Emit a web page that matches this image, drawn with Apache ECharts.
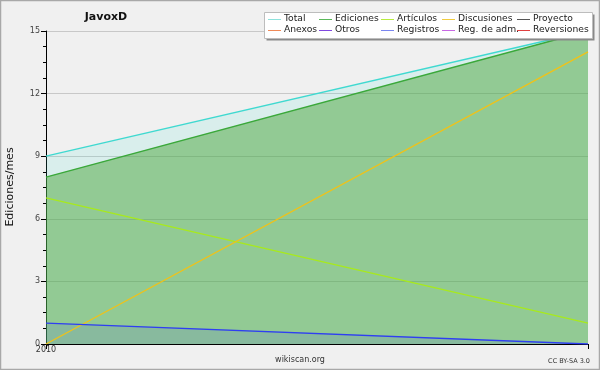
<!DOCTYPE html>
<html><head><meta charset="utf-8">
<script src="https://cdn.jsdelivr.net/npm/echarts@6/dist/echarts.min.js"></script>
<style>html,body{margin:0;padding:0;background:#f0f0f0}#c{width:600px;height:370px}</style>
</head><body><div id="c"></div>
<script>
const categories = ['2010', ''];
const total = [9, 15];
const ediciones = [8, 15];
const articulos = [7, 1];
const discusiones = [0, 14];
const registros = [1, 0];
const yTicks = [0, 3, 6, 9, 12, 15];
const legendCols = [['Total','Anexos'],['Ediciones','Otros'],['Artículos','Registros'],['Discusiones','Reg. de adm.'],['Proyecto','Reversiones']];
const colors = {
  'Total':'#3fd9d0','Ediciones':'#3aa83a','Artículos':'#a8ea1c','Discusiones':'#f0c218',
  'Proyecto':'#555555','Anexos':'#f07838','Otros':'#7a3ad8','Registros':'#2e3ef2',
  'Reg. de adm.':'#c050e0','Reversiones':'#e03030'
};
const legendColors = {
  'Total':'#8ee2dc','Ediciones':'#5ab85a','Artículos':'#b8ec40','Discusiones':'#f0cc40',
  'Proyecto':'#555555','Anexos':'#f08a58','Otros':'#8048e0','Registros':'#7a86f0',
  'Reg. de adm.':'#c868e4','Reversiones':'#e04040'
};
const FONT = 'DejaVu Sans';
function lineSeries(name, data, area){
  const s = {name, type:'line', data, symbol:'none', smooth:false, z:2,
    color: colors[name],
    lineStyle:{color:colors[name], width:1.3}, itemStyle:{color:colors[name]}};
  if(area) s.areaStyle = {color: area, opacity:1, origin:'start'};
  return s;
}
const series = [
  lineSeries('Total', total, 'rgba(64,224,208,0.13)'),
  lineSeries('Ediciones', ediciones, 'rgba(76,166,60,0.5)'),
  lineSeries('Artículos', articulos),
  lineSeries('Discusiones', discusiones),
  lineSeries('Registros', registros, 'rgba(50,50,255,0.1)'),
  lineSeries('Proyecto', []), lineSeries('Anexos', []), lineSeries('Otros', []),
  lineSeries('Reg. de adm.', []), lineSeries('Reversiones', [])
];
const colX = [268, 319, 381, 442, 517];
const rowY = [19, 30];
const legendGraphics = [];
legendCols.forEach((col, i) => col.forEach((n, r) => {
  legendGraphics.push({type:'rect', z:10, silent:true,
    shape:{x:colX[i], y:rowY[r], width:13, height:1},
    style:{fill:legendColors[n]}});
  legendGraphics.push({type:'text', z:10, silent:true, x:colX[i]+16, y:rowY[r],
    style:{text:n, fontFamily:FONT, fontSize:9.2, fill:'#222', align:'left', verticalAlign:'middle'}});
}));
const chart = echarts.init(document.getElementById('c'), null, {renderer:'canvas'});
chart.setOption({
  backgroundColor:'#f0f0f0',
  animation:false,
  grid:{left:46, right:12, top:31, bottom:26, containLabel:false},
  xAxis:{type:'category', data:categories, boundaryGap:false,
    axisLine:{lineStyle:{color:'#000', width:1}},
    axisTick:{show:true, length:5, lineStyle:{color:'#000'}},
    axisLabel:{fontFamily:FONT, fontSize:8, color:'#333', margin:2},
    splitLine:{show:false}},
  yAxis:{type:'value', min:0, max:15, interval:3,
    axisLine:{show:true, lineStyle:{color:'#000', width:1}},
    axisTick:{show:true, length:5, lineStyle:{color:'#000'}},
    minorTick:{show:true, splitNumber:4, length:3, lineStyle:{color:'#000'}},
    axisLabel:{fontFamily:FONT, fontSize:8, color:'#444', margin:6,
      formatter: v => yTicks.includes(v) ? String(v) : ''},
    splitLine:{show:true, lineStyle:{color:'#c8c8c8', width:1}}},
  graphic:[
    {type:'rect', z:0, silent:true, shape:{x:0.5,y:0.5,width:599,height:369},
      style:{fill:'none', stroke:'#a8a8a8', lineWidth:1.5}},
    {type:'text', z:10, x:106, y:17, style:{text:'JavoxD', fontFamily:FONT, fontWeight:'bold', fontSize:11, fill:'#111', align:'center', verticalAlign:'middle'}},
    {type:'text', z:10, x:10, y:187, rotation:Math.PI/2, style:{text:'Ediciones/mes', fontFamily:FONT, fontSize:11, fill:'#111', align:'center', verticalAlign:'middle'}},
    {type:'text', z:10, x:300, y:360, style:{text:'wikiscan.org', fontFamily:FONT, fontSize:8, fill:'#333', align:'center', verticalAlign:'middle'}},
    {type:'text', z:10, x:590, y:361, style:{text:'CC BY-SA 3.0', fontFamily:FONT, fontSize:6.5, fill:'#333', align:'right', verticalAlign:'middle'}},
    {type:'rect', z:8, silent:true, shape:{x:266.5, y:14.5, width:328, height:26}, style:{fill:'#8a8a8a'}},
    {type:'rect', z:9, silent:true, shape:{x:264.5, y:12.5, width:328, height:26}, style:{fill:'#ffffff', stroke:'#bdbdbd', lineWidth:1}}
  ].concat(legendGraphics),
  series
});
</script></body></html>
